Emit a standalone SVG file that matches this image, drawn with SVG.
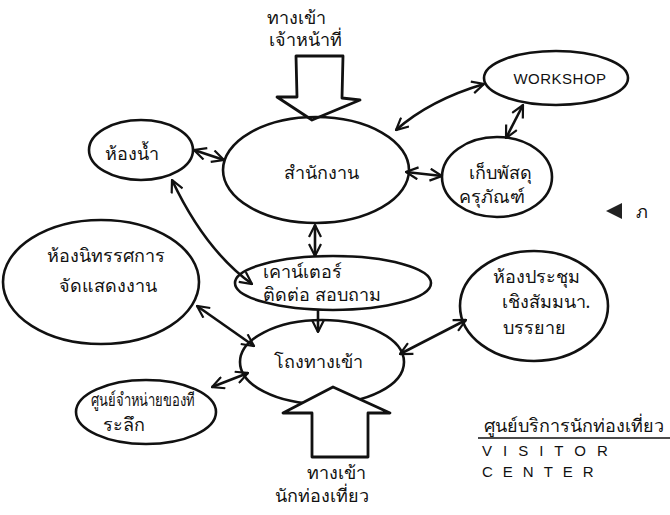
<svg xmlns="http://www.w3.org/2000/svg" width="670" height="515" viewBox="0 0 670 515">
<defs>
<marker id="ah" viewBox="0 0 14 14" refX="13" refY="7" markerWidth="14" markerHeight="14" markerUnits="userSpaceOnUse" orient="auto-start-reverse">
<path d="M1,1 L13,7 L1,13" fill="none" stroke="#111" stroke-width="2.2"/>
</marker>
</defs>
<style>
.n{fill:none;stroke:#111;stroke-width:2.6}
.c{fill:none;stroke:#111;stroke-width:2.6;marker-start:url(#ah);marker-end:url(#ah)}
.c1{fill:none;stroke:#111;stroke-width:2.6;marker-end:url(#ah)}
.big{fill:#fff;stroke:#111;stroke-width:2.8;stroke-linejoin:round}
text{font-family:"Noto Sans","DejaVu Sans",sans-serif;fill:#111;font-size:18px;text-anchor:middle}
.en{font-family:"Liberation Sans",sans-serif;font-size:15px}
</style>
<rect width="670" height="515" fill="#fff"/>
<g id="connectors">
<path class="c" d="M194,150 L224,160"/>
<path class="c" d="M172,180 Q205,250 252,284"/>
<path class="c" d="M396,130 Q430,100 484,84"/>
<path class="c" d="M406,172 L442,176"/>
<path class="c" d="M523,105 L506,138"/>
<path class="c" d="M315,225 L315,256"/>
<path class="c1" d="M318,310 L318,332"/>
<path class="c" d="M197,306 L254,346"/>
<path class="c" d="M400,354 L466,320"/>
<path class="c" d="M212,387 L248,373"/>
</g>
<g id="staff-entrance">
<text x="296" y="24">ทางเข้า</text>
<text x="305" y="46">เจ้าหน้าที่</text>
<path class="big" d="M296,56 L343,56 L342,98 L360,100 L312,120 L277,97 L297,97 Z"/>
</g>
<g id="office">
<ellipse class="n" cx="316" cy="170" rx="93" ry="53"/>
<text x="321" y="179" font-size="22">สำนักงาน</text>
</g>
<g id="toilet">
<ellipse class="n" cx="141" cy="150" rx="52" ry="30"/>
<text x="132" y="160">ห้องน้ำ</text>
</g>
<g id="workshop">
<ellipse class="n" cx="556" cy="78" rx="72" ry="27"/>
<text class="en" x="560" y="84" style="letter-spacing:0.5px">WORKSHOP</text>
</g>
<g id="storage">
<ellipse class="n" cx="497" cy="177" rx="55" ry="40"/>
<text x="500" y="179">เก็บพัสดุ</text>
<text x="492" y="203">ครุภัณฑ์</text>
</g>
<g id="exhibition">
<ellipse class="n" cx="101" cy="282" rx="98" ry="62"/>
<text x="106" y="262">ห้องนิทรรศการ</text>
<text x="108" y="292">จัดแสดงงาน</text>
</g>
<g id="counter">
<ellipse class="n" cx="333" cy="283" rx="98" ry="27"/>
<text x="302" y="278" font-size="17">เคาน์เตอร์</text>
<text x="322" y="301" font-size="17">ติดต่อ สอบถาม</text>
</g>
<g id="hall">
<ellipse class="n" cx="322" cy="362" rx="82" ry="42"/>
<text x="318" y="368" font-size="21">โถงทางเข้า</text>
</g>
<g id="meeting">
<ellipse class="n" cx="534" cy="306" rx="74" ry="55"/>
<text x="536" y="283">ห้องประชุม</text>
<text x="546" y="308">เชิงสัมมนา.</text>
<text x="534" y="334">บรรยาย</text>
</g>
<g id="souvenir">
<ellipse class="n" cx="146" cy="412" rx="70" ry="32"/>
<text x="143" y="406" font-size="14" textLength="104" lengthAdjust="spacingAndGlyphs">ศูนย์จำหน่ายของที่</text>
<text x="124" y="431" font-size="15">ระลึก</text>
</g>
<g id="visitor-entrance">
<path class="big" d="M333,387 L390,413 L368,413 L368,457 L312,457 L312,413 L283,413 Z"/>
<text x="336" y="479">ทางเข้า</text>
<text x="322" y="502">นักท่องเที่ยว</text>
</g>
<g id="caption">
<text x="574" y="432" font-size="17">ศูนย์บริการนักท่องเที่ยว</text>
<line x1="478" y1="438" x2="670" y2="438" stroke="#111" stroke-width="1.6"/>
<text class="en" x="482" y="456" style="text-anchor:start;letter-spacing:11px">VISITOR</text>
<text class="en" x="482" y="477" style="text-anchor:start;letter-spacing:10px">CENTER</text>
<path d="M606,211 L622,203 L622,219 Z" fill="#222"/>
<text x="642" y="218" font-size="16">ภ</text>
</g>
</svg>
